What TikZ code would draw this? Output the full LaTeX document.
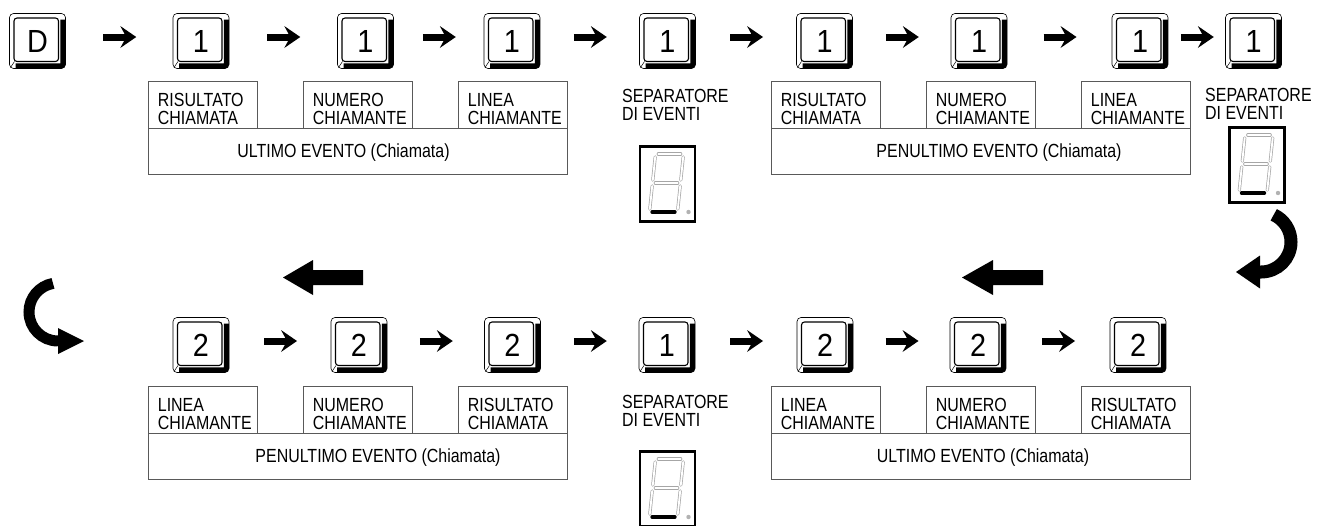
\documentclass[tikz,border=0pt]{standalone}
\usepackage{fontspec}
\setmainfont{Liberation Sans}
\newfontfamily\lblfam[FakeStretch=0.84]{Liberation Sans}
\newfontfamily\keyfam[FakeStretch=0.9]{Liberation Sans}
\usetikzlibrary{arrows.meta, calc}

\newcommand{\lblfont}{\lblfam\fontsize{19}{18.5}\selectfont}
\newcommand{\keyfont}{\keyfam\fontsize{32}{32}\selectfont}

\tikzset{
  keycap/.style={draw, line width=0.6pt, rounded corners=4pt, fill=white,
    minimum width=56pt, minimum height=55pt, inner sep=0pt, font=\keyfont,
    path picture={
      \draw[line width=5.5pt, rounded corners=2pt]
        ([xshift=-2.5pt,yshift=-6pt]path picture bounding box.north east)
        -- ([xshift=-2.5pt,yshift=2.5pt]path picture bounding box.south east)
        -- ([xshift=6pt,yshift=2.5pt]path picture bounding box.south west);
      \draw[line width=1.1pt, rounded corners=3pt]
        ([xshift=4.5pt,yshift=-4.5pt]path picture bounding box.north west)
        rectangle ([xshift=-7pt,yshift=7pt]path picture bounding box.south east);
      \draw[line width=0.5pt]
        ([xshift=1pt,yshift=1pt]path picture bounding box.south west)
        -- ([xshift=5pt,yshift=7pt]path picture bounding box.south west);
    }},
  keyarrow/.style={line width=7pt,
    -{Stealth[length=16pt, width=22pt, inset=6pt, line width=0pt]}},
  fieldbox/.style={draw=black!65, line width=0.8pt, anchor=north west,
    minimum width=109pt, minimum height=47pt, text width=90pt,
    text height=20.7pt, text depth=18.5pt,
    inner xsep=9.5pt, align=left, font=\lblfont},
  eventbox/.style={draw=black!65, line width=0.8pt, anchor=north west,
    minimum width=419pt, minimum height=46pt, inner sep=0pt},
  evtext/.style={anchor=base, inner sep=0pt, font=\lblfont},
  septext/.style={anchor=north west, align=left, inner sep=0pt, font=\lblfont},
  segbox/.style={draw, line width=2.5pt, fill=white, minimum width=55pt,
    minimum height=75pt, inner sep=0pt},
  segline/.style={draw=black!35, double=white, double distance=1.8pt,
    line width=0.7pt, line cap=round},
  bigarrow/.style={fill=black}
}

% arrow between two keys
\newcommand{\conn}[2]{\draw[keyarrow] ($(#1.east)!.5!(#2.west)$) ++(-16,-4) -- ++(33,0);}

% figure of the event separator
\newcommand{\segdigit}[1]{%
  \begin{scope}[shift={(#1.center)}]
    \coordinate (sA) at (-12,-30);
    \coordinate (sB) at (16,-30);
    \coordinate (sC) at (-15,-1);
    \coordinate (sD) at (13,-1);
    \coordinate (sE) at (-18,28);
    \coordinate (sF) at (10,28);
    \foreach \p/\q in {sA/sB, sA/sC, sB/sD, sC/sD, sC/sE, sD/sF}
      \draw[segline] ($(\p)!.1!(\q)$) -- ($(\p)!.9!(\q)$);
    \draw[line width=4pt, line cap=round] ($(sE)!.1!(sF)$) -- ($(sE)!.9!(sF)$);
    \fill[black!30] (21,28) circle (2.2pt);
  \end{scope}}

\begin{document}
\begin{tikzpicture}[x=1pt, y=-1pt]
  \useasboundingbox (0,0) rectangle (1320,525);

  % Keys, first row
  \node[keycap] (kd) at (37.5,41) {D};
  \foreach \n/\x in {1/201, 2/365.5, 3/512, 4/667.5, 5/824.5, 6/979, 7/1140, 8/1253.5}
    \node[keycap] (ka\n) at (\x,41) {1};
  \conn{kd}{ka1}
  \foreach \a/\b in {1/2, 2/3, 3/4, 4/5, 5/6, 6/7, 7/8}
    {\conn{ka\a}{ka\b}}

  % Keys, second row
  \foreach \n/\x/\d in {1/201/2, 2/359/2, 3/512.5/2, 4/667/1, 5/825/2, 6/978/2, 7/1138/2}
    \node[keycap] (kb\n) at (\x,345) {\d};
  \foreach \a/\b in {1/2, 2/3, 3/4, 4/5, 5/6, 6/7}
    {\conn{kb\a}{kb\b}}

  % Fields, first row
  \node[fieldbox] (fa1) at (148,81) {RISULTATO\\CHIAMATA};
  \node[fieldbox] (fa2) at (303,81) {NUMERO\\CHIAMANTE};
  \node[fieldbox] (fa3) at (458,81) {LINEA\\CHIAMANTE};
  \node[eventbox] (ea) at (148,128) {};
  \node[evtext] (ta) at (343.5,157) {ULTIMO EVENTO (Chiamata)};

  \node[fieldbox] (fb1) at (771,81) {RISULTATO\\CHIAMATA};
  \node[fieldbox] (fb2) at (926,81) {NUMERO\\CHIAMANTE};
  \node[fieldbox] (fb3) at (1081,81) {LINEA\\CHIAMANTE};
  \node[eventbox] (eb) at (771,128) {};
  \node[evtext] (tb) at (999,157) {PENULTIMO EVENTO (Chiamata)};

  % Fields, second row
  \node[fieldbox] (fc1) at (148,386) {LINEA\\CHIAMANTE};
  \node[fieldbox] (fc2) at (303,386) {NUMERO\\CHIAMANTE};
  \node[fieldbox] (fc3) at (458,386) {RISULTATO\\CHIAMATA};
  \node[eventbox] (ec) at (148,433) {};
  \node[evtext] (tc) at (378,462) {PENULTIMO EVENTO (Chiamata)};

  \node[fieldbox] (fd1) at (771,386) {LINEA\\CHIAMANTE};
  \node[fieldbox] (fd2) at (926,386) {NUMERO\\CHIAMANTE};
  \node[fieldbox] (fd3) at (1081,386) {RISULTATO\\CHIAMATA};
  \node[eventbox] (ed) at (771,433) {};
  \node[evtext] (td) at (983,462) {ULTIMO EVENTO (Chiamata)};

  % Event separators
  \node[septext] (sa) at (622,89) {SEPARATORE\\DI EVENTI};
  \node[segbox] (da) at (667.5,184) {};
  \segdigit{da}
  \node[septext] (sb) at (1205,88) {SEPARATORE\\DI EVENTI};
  \node[segbox] (db) at (1257,165) {};
  \segdigit{db}
  \node[septext] (sc) at (622,395) {SEPARATORE\\DI EVENTI};
  \node[segbox] (dc) at (667.5,489) {};
  \segdigit{dc}

  % Reading direction
  \fill[bigarrow] (283,277.5) -- (313,260) -- (313,270) -- (363,270)
    -- (363,285) -- (313,285) -- (313,295) -- cycle;
  \fill[bigarrow] (962,277.5) -- (993,260) -- (993,270) -- (1043,270)
    -- (1043,285) -- (993,285) -- (993,295) -- cycle;

  % Turn to the second row
  \draw[line width=13pt, -{Triangle[length=24pt, width=33pt, line width=0pt]}]
    (1273.7,214.8) .. controls (1284.3,219.7) and (1291,230.3) .. (1291,242)
    .. controls (1291,258.6) and (1277.6,272) .. (1261,272) -- (1236,272);
  \draw[line width=11pt, -{Triangle[length=26pt, width=26pt, line width=0pt]}]
    (53,283.4) .. controls (39.1,285.9) and (29,297.9) .. (29,312)
    .. controls (29,328) and (42,341) .. (58,341) -- (84,341);
\end{tikzpicture}
\end{document}
